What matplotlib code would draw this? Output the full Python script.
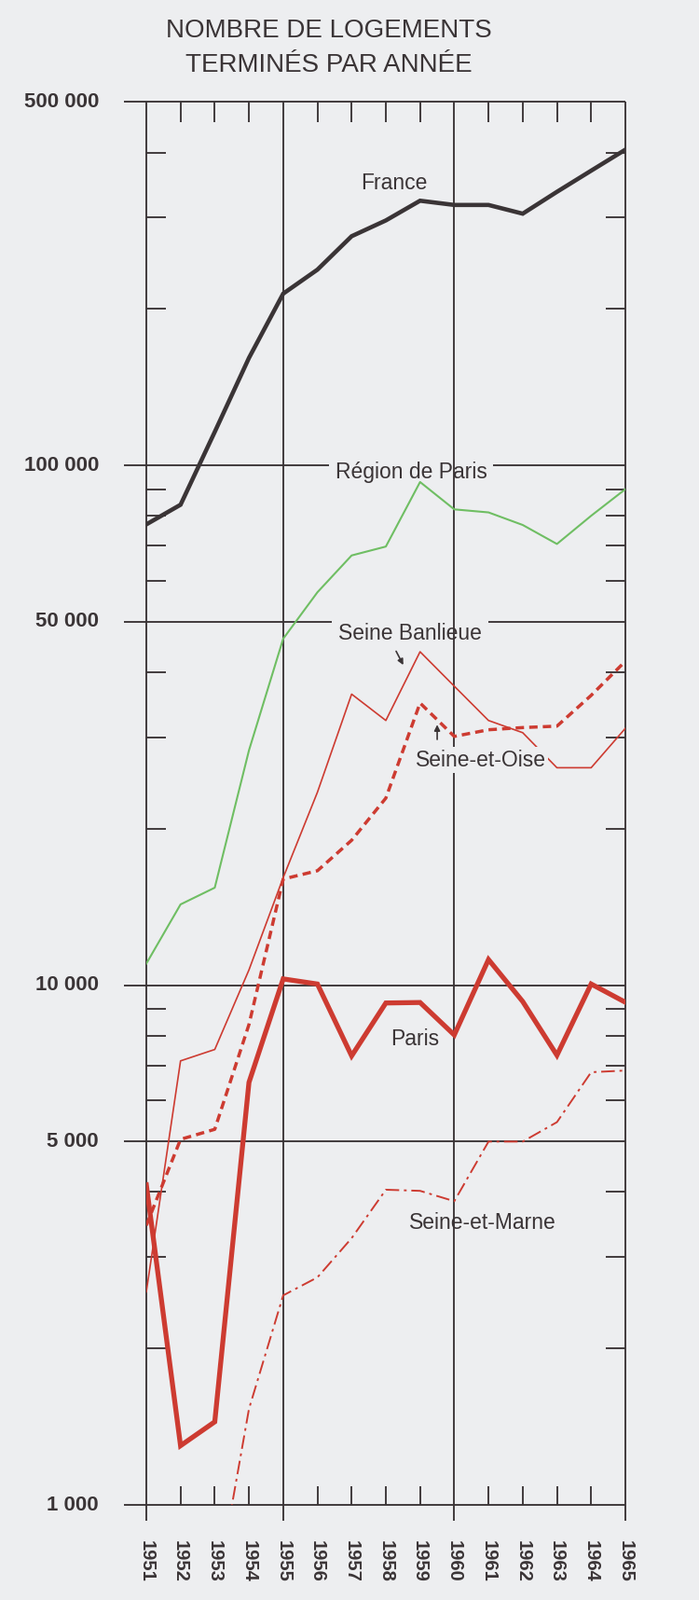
import numpy as np
import matplotlib
matplotlib.use("Agg")
import matplotlib.pyplot as plt

# ---------------- data ----------------
years = list(range(1951, 1966))
france = [77000, 84000, 116000, 161000, 214000, 238000, 276000, 296000,
          323000, 317000, 317000, 305000, 336000, 369000, 405000]
region_paris = [11000, 14300, 15400, 28300, 46400, 57000, 67100, 69800,
                92900, 82300, 81200, 76800, 70600, 80000, 90000]
seine_banlieue = [2570, 7150, 7520, 10700, 16100, 23500, 36300, 32300,
                  43800, 37600, 32300, 30600, 26200, 26200, 31200]
seine_et_oise = [3450, 5050, 5280, 8400, 16000, 16600, 19000, 22900,
                 34900, 30100, 31000, 31300, 31500, 36100, 42000]
paris = [4130, 1300, 1445, 6500, 10280, 10050, 7310, 9240,
         9260, 8020, 11200, 9300, 7330, 10050, 9270]
seine_et_marne = [np.nan, np.nan, 650, 1530, 2530, 2740, 3260, 4040,
                  4020, 3840, 5000, 5000, 5450, 6800, 6850]

major_values = [1000, 5000, 10000, 50000, 100000, 500000]
major_labels = ["1 000", "5 000", "10 000", "50 000", "100 000", "500 000"]
minor_values = [2000, 3000, 4000, 6000, 7000, 8000, 9000,
                20000, 30000, 40000, 60000, 70000, 80000, 90000,
                200000, 300000, 400000]
main_years = [1951, 1955, 1960, 1965]

title_lines = ["NOMBRE DE LOGEMENTS", "TERMINÉS PAR ANNÉE"]

# ---------------- style ----------------
BG = "#edeef0"
INK = "#3a3436"
RED = "#cd3b31"
GREEN = "#6fbe63"
FONT = ["Liberation Sans", "DejaVu Sans"]
plt.rcParams["font.family"] = FONT

W, H = 750, 1716
fig = plt.figure(figsize=(W / 100, H / 100), dpi=100, facecolor=BG)
x0, x1 = 157, 671
y_top, y_bot = 109.5, 1614
ax = fig.add_axes([x0 / W, 1 - y_bot / H, (x1 - x0) / W, (y_bot - y_top) / H])
ax.set_yscale("log")
ax.set_xlim(1951, 1965)
ax.set_ylim(1000, 500000)
ax.set_axis_off()

px_per_year = (x1 - x0) / 14.0
px_per_dec = (y_bot - y_top) / np.log10(500)


def dv(v, px):  # move a value up by px pixels on the log axis
    return v * 10 ** (px / px_per_dec)


grid_kw = dict(color=INK, lw=1.35, clip_on=False, solid_capstyle="butt")
x_left = 1951 - 24 / px_per_year

# horizontal major lines
for v in major_values:
    ax.plot([x_left, 1965], [v, v], zorder=1, **grid_kw)
# vertical main lines
for yr in main_years:
    ax.plot([yr, yr], [dv(1000, -17), 500000], zorder=2.2, **grid_kw)
# top and bottom year ticks
for yr in years:
    if yr in main_years:
        continue
    ax.plot([yr, yr], [dv(500000, -21), 500000], zorder=1, **grid_kw)
    ax.plot([yr, yr], [1000, dv(1000, 20)], zorder=1, **grid_kw)
# side minor ticks
tl = 21 / px_per_year
for v in minor_values:
    ax.plot([1951, 1951 + tl], [v, v], zorder=1, **grid_kw)
    ax.plot([1965 - tl, 1965], [v, v], zorder=1, **grid_kw)

# y labels
for v, lab in zip(major_values, major_labels):
    ax.text(x_left - 27 / px_per_year, v, lab, ha="right", va="center",
            fontsize=16, fontweight="bold", color=INK)
# year labels
for yr in years:
    ax.text(yr, dv(1000, -38), str(yr), rotation=270, ha="center", va="top",
            fontsize=14.5, fontweight="bold", color=INK)

# ---------------- series ----------------
ax.plot(years, france, color=INK, lw=3.3, zorder=3, solid_joinstyle="miter")
ax.plot(years, region_paris, color=GREEN, lw=1.5, zorder=3)
ax.plot(years, seine_banlieue, color=RED, lw=1.2, zorder=3)
ax.plot(years, seine_et_oise, color=RED, lw=2.5, zorder=3, dashes=(2.6, 1.6))
ax.plot(years, paris, color=RED, lw=3.8, zorder=3, solid_joinstyle="miter")
ax.plot(years, seine_et_marne, color=RED, lw=1.4, zorder=3,
        dashes=(7.5, 2.6, 1.5, 2.6))

# ---------------- labels ----------------
lab_kw = dict(fontsize=16.5, color=INK, ha="center", va="baseline")
ax.text(1958.24, 340000, "France", zorder=4, **lab_kw)
ax.text(1958.74, 94400, "Région de Paris", zorder=2,
        bbox=dict(boxstyle="square,pad=0.3", fc=BG, ec="none"), **lab_kw)
ax.text(1958.70, 46200, "Seine Banlieue", zorder=2,
        bbox=dict(boxstyle="square,pad=0.3", fc=BG, ec="none"), **lab_kw)
ax.text(1960.77, 26400, "Seine-et-Oise", zorder=3.5,
        bbox=dict(boxstyle="square,pad=0.12", fc=BG, ec="none"), **lab_kw)
ax.text(1958.85, 7660, "Paris", zorder=4, **lab_kw)
ax.text(1960.82, 3400, "Seine-et-Marne", zorder=4, **lab_kw)

arr_kw = dict(arrowstyle="-|>", color=INK, lw=1.2, mutation_scale=9,
              shrinkA=0, shrinkB=0)
ax.annotate("", xy=(1958.51, 41300), xytext=(1958.30, 43900),
            arrowprops=arr_kw, zorder=4)
ax.annotate("", xy=(1959.50, 31700), xytext=(1959.50, 29700),
            arrowprops=arr_kw, zorder=4)

# ---------------- title ----------------
fig.text(353 / W, 1 - 40 / H, title_lines[0], ha="center", va="baseline",
         fontsize=20, color=INK)
fig.text(353 / W, 1 - 77 / H, title_lines[1], ha="center", va="baseline",
         fontsize=20, color=INK)

fig.savefig("out.png", dpi=100, facecolor=BG)
